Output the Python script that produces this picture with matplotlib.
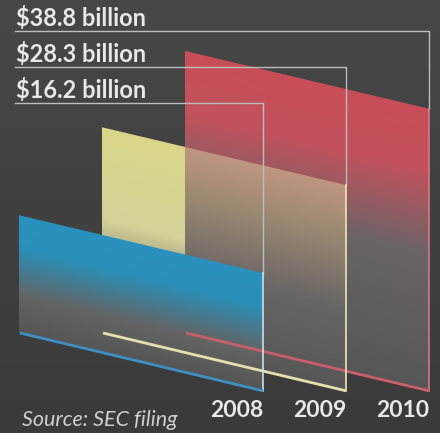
import numpy as np
import matplotlib.pyplot as plt
from matplotlib.patches import Polygon
from matplotlib.colors import to_rgb

# data
years = ['2008', '2009', '2010']
values = [16.2, 28.3, 38.8]
labels = ['$16.2 billion', '$28.3 billion', '$38.8 billion']
source = 'Source: SEC filing'

# panel colours (front face, gradient stops: fraction of height -> colour)
stops = {
    '2008': [(0.0, '#2b92bf'), (0.28, '#2a8fb8'), (0.68, '#646464'), (1.0, '#555555')],
    '2009': [(0.0, '#dad78a'), (0.45, '#d4d198'), (0.8, '#686868'), (1.0, '#585858')],
    '2010': [(0.0, '#c84e58'), (0.22, '#c2525c'), (0.52, '#6a6466'), (1.0, '#565656')],
}
# yellow seen in front of the red panel
stops_overlap = [(0.0, '#c09680'), (0.25, '#9a8871'), (0.6, '#686565'), (1.0, '#575757')]
edge_colors = ['#3d8fc2', '#e4e0ae', '#c95f6c']
vert_colors = ['#c6e0e8', '#ece8b4', '#d27a86']

BG_TOP, BG_BOT = '#474747', '#3a3a3a'
TEXT = '#e8e8e8'
FONT = ['Lato', 'DejaVu Sans']

# geometry (pixel space)
W, H = 440, 433
x0, step, width = 19, 83, 244
base = 333
slope = 0.237
k = 7.27  # px per billion

fig = plt.figure(figsize=(W / 100, H / 100), dpi=100)
ax = fig.add_axes([0, 0, 1, 1])
ax.set_xlim(0, W)
ax.set_ylim(H, 0)
ax.axis('off')

# background
top_c, bot_c = np.array(to_rgb(BG_TOP)), np.array(to_rgb(BG_BOT))
bg = np.linspace(0, 1, H)[:, None, None] * (bot_c - top_c) + top_c
bg = np.repeat(bg, 2, axis=1)
ax.imshow(bg, extent=(0, W, H, 0), aspect='auto', zorder=0)


def ramp(frac, st):
    pos = [s[0] for s in st]
    cols = np.array([to_rgb(s[1]) for s in st])
    return np.stack([np.interp(frac, pos, cols[:, c]) for c in range(3)], axis=-1)


def panel(i, v):
    left = x0 + step * i
    right = left + width
    h = v * k
    top_l = base - h
    bot_r = base + slope * width
    xs = np.arange(int(left), int(right) + 1) + 0.5
    ys = np.arange(int(top_l), int(bot_r) + 1) + 0.5
    X, Y = np.meshgrid(xs, ys)
    frac = np.clip((Y - (top_l + slope * (X - left))) / h, 0, 1)
    img = ramp(frac, stops[years[i]])
    if i == 1:
        red_left = x0 + step * 2
        over = ramp(frac, stops_overlap)
        img = np.where((X >= red_left)[..., None], over, img)
    poly = Polygon([(left, top_l), (right, top_l + slope * width),
                    (right, bot_r), (left, base)], closed=True,
                   facecolor='none', edgecolor='none', transform=ax.transData)
    ax.add_patch(poly)
    im = ax.imshow(img, extent=(xs[0] - 0.5, xs[-1] + 0.5, ys[-1] + 0.5, ys[0] - 0.5),
                   aspect='auto', interpolation='bilinear')
    im.set_clip_path(poly)
    im.set_zorder(5 - i)
    return left, right, top_l, bot_r


geo = [panel(i, v) for i, v in enumerate(values)]

order = np.argsort(values)[::-1]
for rank, i in enumerate(order):
    left, right, top_l, bot_r = geo[i]
    yl = 31 + 36 * rank
    ax.text(16, yl - 5, labels[i], color=TEXT, fontsize=17, fontweight='bold',
            family=FONT, ha='left', va='baseline', parse_math=False, zorder=10)
    ax.plot([15, right, right], [yl, yl, top_l + slope * width], color='#bdbdbd', lw=1.0, zorder=9)
    ax.plot([right, right], [top_l + slope * width, bot_r], color=vert_colors[i], lw=1.2, zorder=9)
    ax.plot([left + 1, right], [base, bot_r], color=edge_colors[i], lw=2.0, zorder=9,
            solid_capstyle='butt')
    ax.text(right, 417, years[i], color=TEXT, fontsize=16.5, fontweight='bold',
            family=FONT, ha='right', va='baseline', zorder=10)

ax.text(22, 426, source, color='#cfcfcf', fontsize=15.5, style='italic',
        family=FONT, ha='left', va='baseline', zorder=10)

fig.savefig('out.png', dpi=100, facecolor=BG_TOP)
